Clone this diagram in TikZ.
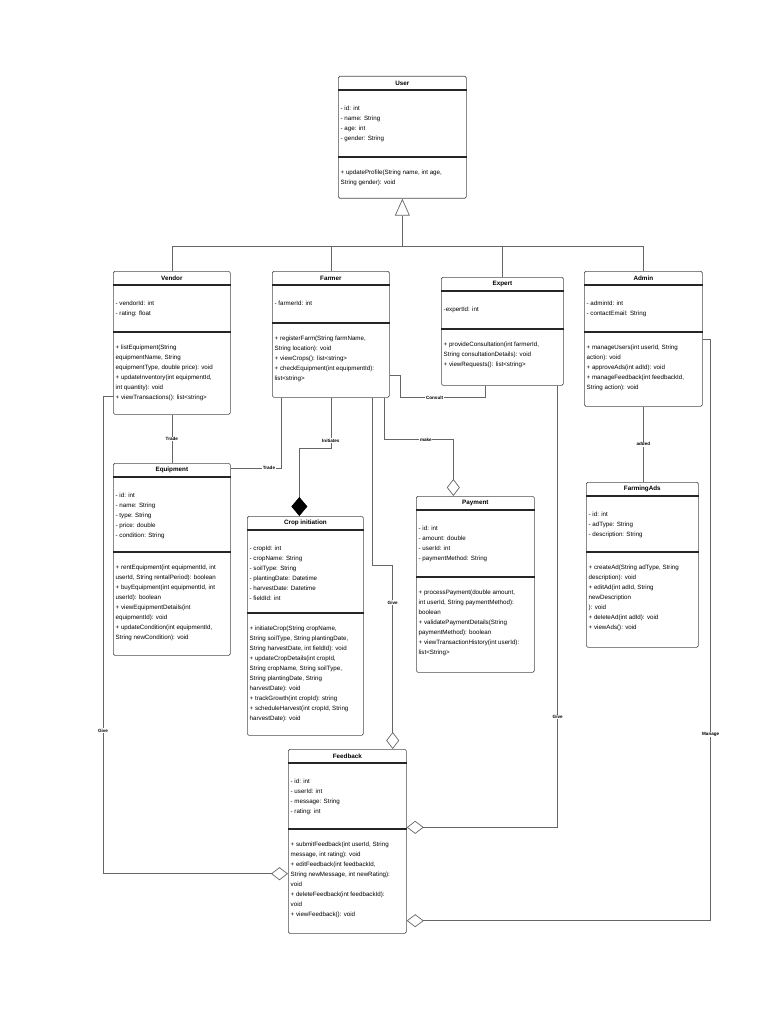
\documentclass[tikz,border=0pt]{standalone}
\usepackage{fontspec}
\setmainfont{Liberation Sans}
\usetikzlibrary{arrows.meta,positioning,calc}

% class box: name, left, top, width, height, second separator, title, attributes, methods
\newcommand{\umlclass}[9]{%
    \node [classbox, minimum width=#4pt, minimum height=#5pt, anchor=north west] (#1) at (#2,#3) {};
    \node [classtitle] at ($(#1.north)+(0,7)$) {#7};
    \draw [sepline] ($(#1.north west)+(0,14)$) -- ($(#1.north east)+(0,14)$);
    \draw [sepline] ($(#1.north west)+(0,#6)$) -- ($(#1.north east)+(0,#6)$);
    \node [members] at ($(#1.north west)+(2.5,29.5)$) {#8};
    \node [members] at ($(#1.north west)+(2.5,#6+13)$) {#9};
}

\begin{document}
\begin{tikzpicture}[x=1pt, y=-1pt, >=latex]
\tikzset{
classbox/.style   = {draw=black!70, line width=0.7pt, rounded corners=1.5pt, fill=white, inner sep=0pt},
classtitle/.style = {font=\fontsize{6.3}{7}\bfseries\selectfont, inner sep=0pt},
sepline/.style    = {draw=black!85, line width=1.1pt},
members/.style    = {anchor=north west, align=left, inner sep=0pt, font=\fontsize{6.2}{10}\selectfont},
line/.style       = {draw=black!60, line width=0.7pt},
inherit/.style    = {line, -{Triangle[open, length=17pt, width=15pt]}},
aggr/.style       = {line, -{Diamond[open, length=17pt, width=13pt]}},
compose/.style    = {line, -{Diamond[length=19pt, width=16pt, color=black]}},
lbl/.style        = {font=\fontsize{4.6}{5}\bfseries\selectfont, fill=white, inner sep=0.6pt},
}
    \fill [white] (0,0) rectangle (768,1024);
    \useasboundingbox (0,0) rectangle (768,1024);

    % Main nodes
    \umlclass{user}{338}{76}{128}{122}{81}{User}
        {- id: int\\- name: String\\- age: int\\- gender: String}
        {+ updateProfile(String name, int age,\\String gender): void}
    \umlclass{vendor}{113}{271}{117}{143}{61}{Vendor}
        {- vendorId: int\\- rating: float}
        {+ listEquipment(String\\equipmentName, String\\equipmentType, double price): void\\+ updateInventory(int equipmentId,\\int quantity): void\\+ viewTransactions(): list<string>}
    \umlclass{farmer}{272}{271}{117}{126}{52}{Farmer}
        {- farmerId: int}
        {+ registerFarm(String farmName,\\String location): void\\+ viewCrops(): list<string>\\+ checkEquipment(int equipmentId):\\list<string>}
    \umlclass{expert}{441}{277}{122}{108}{52}{Expert}
        {-expertId: int}
        {+ provideConsultation(int farmerId,\\String consultationDetails): void\\+ viewRequests(): list<string>}
    \umlclass{admin}{584}{271}{118}{135}{61}{Admin}
        {- adminId: int\\- contactEmail: String}
        {+ manageUsers(int userId, String\\action): void\\+ approveAds(int adId): void\\+ manageFeedback(int feedbackId,\\String action): void}
    \umlclass{equipment}{113}{463}{117}{192}{89}{Equipment}
        {- id: int\\- name: String\\- type: String\\- price: double\\- condition: String}
        {+ rentEquipment(int equipmentId, int\\userId, String rentalPeriod): boolean\\+ buyEquipment(int equipmentId, int\\userId): boolean\\+ viewEquipmentDetails(int\\equipmentId): void\\+ updateCondition(int equipmentId,\\String newCondition): void}
    \umlclass{crop}{247}{516}{116}{219}{97}{Crop initiation}
        {- cropId: int\\- cropName: String\\- soilType: String\\- plantingDate: Datetime\\- harvestDate: Datetime\\- fieldId: int}
        {+ initiateCrop(String cropName,\\String soilType, String plantingDate,\\String harvestDate, int fieldId): void\\+ updateCropDetails(int cropId,\\String cropName, String soilType,\\String plantingDate, String\\harvestDate): void\\+ trackGrowth(int cropId): string\\+ scheduleHarvest(int cropId, String\\harvestDate): void}
    \umlclass{payment}{416}{496}{118}{176}{81}{Payment}
        {- id: int\\- amount: double\\- userId: int\\- paymentMethod: String}
        {+ processPayment(double amount,\\int userId, String paymentMethod):\\boolean\\+ validatePaymentDetails(String\\paymentMethod): boolean\\+ viewTransactionHistory(int userId):\\list<String>}
    \umlclass{ads}{586}{482}{112}{165}{70}{FarmingAds}
        {- id: int\\- adType: String\\- description: String}
        {+ createAd(String adType, String\\description): void\\+ editAd(int adId, String\\newDescription\\): void\\+ deleteAd(int adId): void\\+ viewAds(): void}
    \umlclass{feedback}{288}{749}{118}{184}{80}{Feedback}
        {- id: int\\- userId: int\\- message: String\\- rating: int}
        {+ submitFeedback(int userId, String\\message, int rating): void\\+ editFeedback(int feedbackId,\\String newMessage, int newRating):\\void\\+ deleteFeedback(int feedbackId):\\void\\+ viewFeedback(): void}

    % Inheritance
    \coordinate (hub) at ($(user.south)+(0,48)$);
    \draw [inherit] (hub) -- (user.south);
    \draw [line] (vendor.north) |- (admin.north |- hub) -- (admin.north);
    \draw [line] (farmer.north) -- (farmer.north |- hub);
    \draw [line] (expert.north) -- (expert.north |- hub);

    % Main edges
    \draw [line] (vendor.south) -- (equipment.north) node [lbl, midway] {Trade};
    \draw [line] ([xshift=9pt]farmer.south west) |- ([yshift=-5pt]equipment.north east) node [lbl, pos=0.62] {Trade};
    \draw [compose] (farmer.south) -- ++(0,51) node [lbl, pos=0.84] {Initiates} -| ([xshift=-6pt]crop.north);
    \draw [line] ([yshift=22pt]farmer.south east) -- ++(11,0) -- ++(0,22) -| ([xshift=-17pt]expert.south) node [lbl, pos=0.2] {Consult};
    \draw [aggr] ([xshift=-5pt]farmer.south east) -- ++(0,42) -| ([xshift=-22pt]payment.north) node [lbl, pos=0.3] {make};
    \draw [aggr] ([xshift=-17pt]farmer.south east) -- ++(0,168) -| ([xshift=-14pt]feedback.north east) node [lbl, pos=0.6] {Give};
    \draw [aggr] ([xshift=-6pt]expert.south east) |- ([yshift=14pt]feedback.east) node [lbl, pos=0.375] {Give};
    \draw [line] (admin.south) -- (admin.south |- ads.north) node [lbl, midway] {added};
    \draw [aggr] (admin.east) -- ++(8,0) |- ([yshift=13pt]feedback.south east) node [lbl, pos=0.34] {Manage};
    \draw [aggr] ([yshift=18pt]vendor.south west) -- ++(-10,0) |- ([yshift=60pt]feedback.south west) node [lbl, pos=0.35] {Give};

\end{tikzpicture}
\end{document}
